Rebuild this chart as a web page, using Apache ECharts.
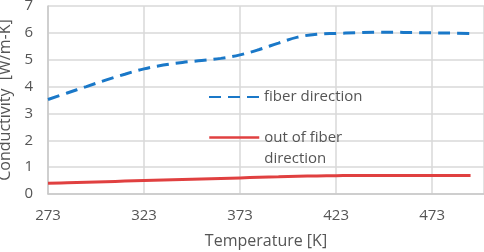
<!DOCTYPE html>
<html>
<head>
<meta charset="utf-8">
<script src="https://cdn.jsdelivr.net/npm/echarts@6/dist/echarts.min.js"></script>
<style>
  html, body { margin: 0; padding: 0; background: #fff; }
  #chart { width: 484px; height: 252px; }
</style>
</head>
<body>
<div id="chart"></div>
<script>
// temperatures [K]
const temps = [273, 283, 293, 303, 313, 323, 333, 343, 353, 363, 373, 383, 393, 403, 413, 423, 433, 443, 453, 463, 473, 483, 493];
// conductivity along fibers [W/m-K]
const fiberDir = [3.52, 3.76, 4.0, 4.24, 4.46, 4.66, 4.8, 4.9, 4.97, 5.05, 5.18, 5.38, 5.62, 5.84, 5.95, 5.98, 6.0, 6.02, 6.02, 6.01, 6.0, 5.99, 5.98];
// conductivity out of fiber direction [W/m-K]
const outFiberDir = [0.4, 0.42, 0.44, 0.46, 0.48, 0.5, 0.52, 0.54, 0.56, 0.58, 0.6, 0.62, 0.64, 0.66, 0.67, 0.68, 0.69, 0.69, 0.69, 0.69, 0.69, 0.69, 0.69];

const pair = (xs, ys) => xs.map((x, i) => [x, ys[i]]);

const font = '"Open Sans", "Noto Sans", sans-serif';
const txt = '#555';

let myChart = echarts.init(document.getElementById('chart'));
myChart.setOption({
  animation: false,
  backgroundColor: '#fff',
  textStyle: { fontFamily: font },
  grid: { left: 48, right: 0, top: 6, bottom: 58, containLabel: false, outerBoundsMode: 'none' },
  legend: [
    {
      left: 203, top: 84,
      itemWidth: 50, itemHeight: 20, itemGap: 4,
      itemStyle: { opacity: 0 },
      data: ['fiber direction'],
      textStyle: { color: txt, fontSize: 15, fontFamily: font }
    },
    {
      left: 203, top: 101,
      itemWidth: 50, itemHeight: 20, itemGap: 4,
      itemStyle: { opacity: 0 },
      lineStyle: { width: 2.5 },
      data: ['out of fiber direction'],
      formatter: () => '\nout of fiber\ndirection',
      textStyle: { color: txt, fontSize: 15, lineHeight: 21, fontFamily: font }
    }
  ],
  xAxis: {
    type: 'value',
    min: 273, max: 500, interval: 50,
    axisLine: { show: true, lineStyle: { color: '#c8c8c8', width: 1.5 } },
    axisTick: { show: false },
    splitLine: { show: true, lineStyle: { color: '#d9d9d9', width: 1.5 } },
    axisLabel: { color: txt, fontSize: 15, margin: 14, showMaxLabel: false },
    name: 'Temperature [K]',
    nameLocation: 'middle', nameGap: 39,
    nameTextStyle: { color: txt, fontSize: 16 }
  },
  yAxis: {
    type: 'value',
    min: 0, max: 7, interval: 1,
    axisLine: { show: true, lineStyle: { color: '#c8c8c8', width: 1.5 } },
    axisTick: { show: false },
    splitLine: { show: true, lineStyle: { color: '#d9d9d9', width: 1.5 } },
    axisLabel: { color: txt, fontSize: 15, margin: 15 },
    name: 'Conductivity  [W/m-K]',
    nameLocation: 'middle', nameGap: 30,
    nameTextStyle: { color: txt, fontSize: 16 }
  },
  series: [
    {
      name: 'fiber direction',
      type: 'line',
      data: pair(temps, fiberDir),
      smooth: 0.4,
      symbol: 'none',
      itemStyle: { color: '#1a78c8' },
      lineStyle: { color: '#1a78c8', width: 3, type: [12, 7] }
    },
    {
      name: 'out of fiber direction',
      type: 'line',
      data: pair(temps, outFiberDir),
      smooth: 0.4,
      symbol: 'none',
      itemStyle: { color: '#e04040' },
      lineStyle: { color: '#e04040', width: 3 }
    }
  ]
});
</script>
</body>
</html>
